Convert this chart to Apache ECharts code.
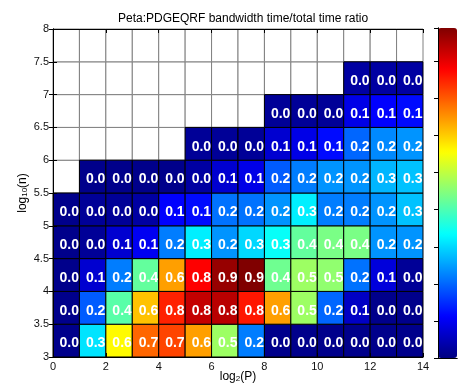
<!DOCTYPE html>
<html>
<head>
<meta charset="utf-8">
<script src="https://cdn.jsdelivr.net/npm/echarts@6/dist/echarts.min.js"></script>
<style>
  html, body { margin: 0; padding: 0; background: #fff; }
  #chart { width: 459px; height: 392px; }
</style>
</head>
<body>
<div id="chart"></div>
<script>
// Bandwidth time / total time ratio, one cell per (log2 P, log10 n) bin.
// Column starts along log2(P); row starts along log10(n). null = not measured.
const log2P = [0, 1, 2, 3, 4, 5, 6, 7, 8, 9, 10, 11, 12, 13];
const log10N = [3, 3.5, 4, 4.5, 5, 5.5, 6, 6.5, 7, 7.5];

const row30 = [0.01, 0.31, 0.56, 0.69, 0.72, 0.64, 0.47, 0.22, 0.01, 0.01, 0.01, 0.01, 0.01, 0.01];
const row35 = [0.01, 0.19, 0.41, 0.61, 0.75, 0.83, 0.84, 0.76, 0.64, 0.47, 0.20, 0.06, 0.01, 0.01];
const row40 = [0.01, 0.07, 0.22, 0.42, 0.64, 0.78, 0.87, 0.89, 0.43, 0.47, 0.46, 0.21, 0.08, 0.02];
const row45 = [0.01, 0.02, 0.07, 0.10, 0.22, 0.32, 0.24, 0.30, 0.34, 0.42, 0.44, 0.44, 0.24, 0.24];
const row50 = [0.01, 0.02, 0.02, 0.03, 0.11, 0.12, 0.21, 0.21, 0.24, 0.32, 0.22, 0.22, 0.24, 0.28];
const row55 = [null, 0.01, 0.01, 0.01, 0.01, 0.03, 0.07, 0.09, 0.19, 0.22, 0.24, 0.24, 0.27, 0.28];
const row60 = [null, null, null, null, null, 0.02, 0.02, 0.02, 0.07, 0.09, 0.12, 0.20, 0.23, 0.24];
const row65 = [null, null, null, null, null, null, null, null, 0.02, 0.02, 0.02, 0.09, 0.11, 0.12];
const row70 = [null, null, null, null, null, null, null, null, null, null, null, 0.03, 0.03, 0.03];
const row75 = [null, null, null, null, null, null, null, null, null, null, null, null, null, null];

const rows = [row30, row35, row40, row45, row50, row55, row60, row65, row70, row75];

// Colour scale limits and colorbar tick spacing
const cMin = 0;
const cMax = 0.89;
const cTick = 0.1;

const CELL_W = 1;
const CELL_H = 0.5;

// MATLAB "jet" stops, evenly spaced
const jet = ['#000080', '#0000ff', '#0080ff', '#00ffff', '#80ff80', '#ffff00', '#ff8000', '#ff0000', '#800000'];

const filled = [];
const empty = [];
rows.forEach((r, ri) => {
  r.forEach((v, ci) => {
    if (v === null) empty.push([log2P[ci], log10N[ri]]);
    else filled.push([log2P[ci], log10N[ri], v]);
  });
});

function cellRect(api) {
  const x = api.value(0), y = api.value(1);
  const p0 = api.coord([x, y + CELL_H]);
  const p1 = api.coord([x + CELL_W, y]);
  return { x: p0[0], y: p0[1], width: p1[0] - p0[0], height: p1[1] - p0[1] };
}

const FONT = '"Liberation Sans", Arial, Helvetica, sans-serif';

const chart = echarts.init(document.getElementById('chart'), null, { renderer: 'canvas' });

const axisCommon = {
  axisLine: { show: true, lineStyle: { color: '#000', width: 1 } },
  axisTick: { show: true, inside: true, length: 4, lineStyle: { color: '#000' } },
  splitLine: { show: false },
  z: 5
};

const nameRich = {
  a: { fontFamily: FONT, fontSize: 12, color: '#000', lineHeight: 12, verticalAlign: 'top' },
  s: { fontFamily: FONT, fontSize: 8, color: '#000', lineHeight: 8, verticalAlign: 'bottom' }
};

chart.setOption({
  animation: false,
  backgroundColor: '#fff',
  title: {
    text: 'Peta:PDGEQRF bandwidth time/total time ratio',
    left: 238,
    textAlign: 'center',
    top: 8,
    textStyle: { fontFamily: FONT, fontSize: 12, fontWeight: 'normal', color: '#000' }
  },
  grid: [
    { left: 53, top: 29, width: 370, height: 328 },
    { left: 438, top: 28, width: 19, height: 330 }
  ],
  xAxis: [
    Object.assign({}, axisCommon, {
      type: 'value', gridIndex: 0, min: 0, max: 14, interval: 2, position: 'bottom',
      axisLabel: { color: '#111', fontFamily: FONT, fontSize: 11, margin: 4 },
      name: '{a|log}{s|2}{a|(P)}',
      nameLocation: 'middle',
      nameGap: 14,
      nameMoveOverlap: false,
      nameTextStyle: { rich: nameRich, lineHeight: 16 }
    }),
    Object.assign({}, axisCommon, {
      type: 'value', gridIndex: 0, min: 0, max: 14, interval: 2, position: 'top',
      axisLabel: { show: false }
    }),
    {
      type: 'value', gridIndex: 1, min: 0, max: 1, position: 'bottom',
      axisLine: { show: true, lineStyle: { color: '#000' } },
      axisTick: { show: false }, axisLabel: { show: false }, splitLine: { show: false }, z: 10
    },
    {
      type: 'value', gridIndex: 1, min: 0, max: 1, position: 'top',
      axisLine: { show: true, lineStyle: { color: '#000' } },
      axisTick: { show: false }, axisLabel: { show: false }, splitLine: { show: false }, z: 10
    }
  ],
  yAxis: [
    Object.assign({}, axisCommon, {
      type: 'value', gridIndex: 0, min: 3, max: 8, interval: 0.5, position: 'left',
      axisLabel: { color: '#111', fontFamily: FONT, fontSize: 11, margin: 4 },
      name: '{a|log}{s|10}{a|(n)}',
      nameLocation: 'middle',
      nameRotate: 90,
      nameGap: 24,
      nameMoveOverlap: false,
      nameTextStyle: { rich: nameRich, lineHeight: 16 }
    }),
    Object.assign({}, axisCommon, {
      type: 'value', gridIndex: 0, min: 3, max: 8, interval: 0.5, position: 'right',
      axisLabel: { show: false }
    }),
    {
      type: 'value', gridIndex: 1, min: cMin, max: cMax, interval: cTick, position: 'right',
      axisLine: { show: true, lineStyle: { color: '#000' } },
      axisTick: { show: true, inside: true, length: 4, lineStyle: { color: '#000' } },
      axisLabel: { show: false }, splitLine: { show: false }, z: 10
    },
    {
      type: 'value', gridIndex: 1, min: cMin, max: cMax, position: 'left',
      axisLine: { show: true, lineStyle: { color: '#000' } },
      axisTick: { show: false }, axisLabel: { show: false }, splitLine: { show: false }, z: 10
    }
  ],
  visualMap: {
    type: 'continuous',
    seriesIndex: 1,
    dimension: 2,
    min: cMin,
    max: cMax,
    calculable: false,
    hoverLink: false,
    realtime: false,
    left: 438,
    top: 28,
    padding: 0,
    itemWidth: 19,
    itemHeight: 330,
    text: null,
    showLabel: false,
    inRange: { color: jet }
  },
  series: [
    {
      // bins with no measurement
      type: 'custom',
      xAxisIndex: 0,
      yAxisIndex: 0,
      data: empty,
      z: 1,
      renderItem: function (params, api) {
        return {
          type: 'rect',
          shape: cellRect(api),
          style: { fill: '#fff', stroke: '#808080', lineWidth: 1 }
        };
      }
    },
    {
      type: 'custom',
      xAxisIndex: 0,
      yAxisIndex: 0,
      data: filled,
      z: 2,
      renderItem: function (params, api) {
        const r = cellRect(api);
        const v = api.value(2);
        return {
          type: 'group',
          children: [
            {
              type: 'rect',
              shape: r,
              style: { fill: api.visual('color'), stroke: '#000', lineWidth: 1 }
            },
            {
              type: 'text',
              x: r.x + r.width / 2 + 3,
              y: r.y + r.height / 2 + 3,
              style: {
                text: v.toFixed(1),
                fill: '#fff',
                font: 'bold 14px ' + FONT,
                align: 'center',
                verticalAlign: 'middle'
              }
            }
          ]
        };
      }
    }
  ]
});
</script>
</body>
</html>
